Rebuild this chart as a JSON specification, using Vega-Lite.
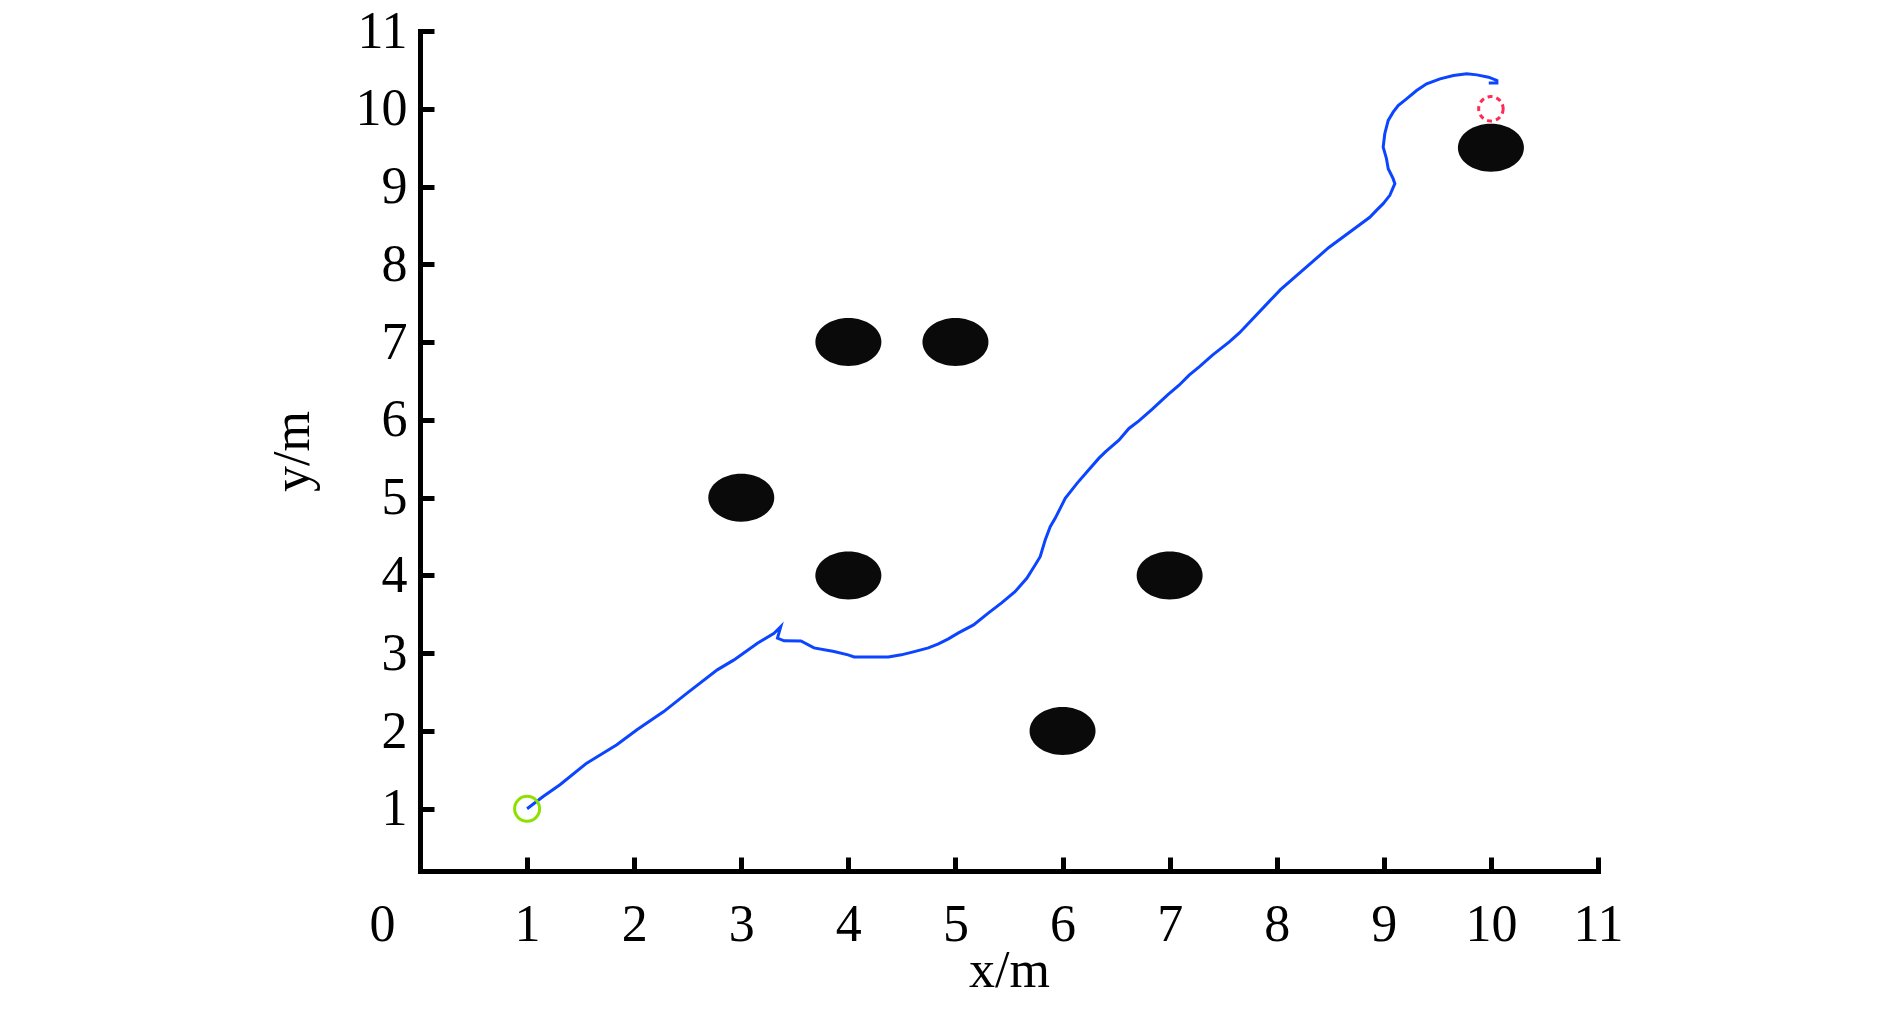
{
  "$schema": "https://vega.github.io/schema/vega-lite/v6.json",
  "width": 1178,
  "height": 840,
  "autosize": "none",
  "padding": {"left": 420, "top": 31, "right": 292, "bottom": 140},
  "background": "white",
  "config": {"view": {"stroke": null}, "font": "Liberation Serif"},
  "datasets": {
    "path": [
      {"i": 0, "x": 1, "y": 1}, {"i": 1, "x": 1.15, "y": 1.158}, {"i": 2, "x": 1.307, "y": 1.309},
      {"i": 3, "x": 1.557, "y": 1.587}, {"i": 4, "x": 1.838, "y": 1.823}, {"i": 5, "x": 2.026, "y": 2.015},
      {"i": 6, "x": 2.276, "y": 2.25}, {"i": 7, "x": 2.494, "y": 2.487}, {"i": 8, "x": 2.776, "y": 2.786},
      {"i": 9, "x": 2.932, "y": 2.914}, {"i": 10, "x": 3.151, "y": 3.129}, {"i": 11, "x": 3.306, "y": 3.257},
      {"i": 12, "x": 3.369, "y": 3.342}, {"i": 13, "x": 3.338, "y": 3.193}, {"i": 14, "x": 3.4, "y": 3.16},
      {"i": 15, "x": 3.557, "y": 3.158}, {"i": 16, "x": 3.679, "y": 3.068}, {"i": 17, "x": 3.866, "y": 3.021},
      {"i": 18, "x": 3.997, "y": 2.979}, {"i": 19, "x": 4.054, "y": 2.953}, {"i": 20, "x": 4.241, "y": 2.953},
      {"i": 21, "x": 4.373, "y": 2.953}, {"i": 22, "x": 4.494, "y": 2.979}, {"i": 23, "x": 4.616, "y": 3.021},
      {"i": 24, "x": 4.747, "y": 3.068}, {"i": 25, "x": 4.841, "y": 3.12}, {"i": 26, "x": 4.934, "y": 3.184},
      {"i": 27, "x": 5.028, "y": 3.261}, {"i": 28, "x": 5.169, "y": 3.364}, {"i": 29, "x": 5.309, "y": 3.518},
      {"i": 30, "x": 5.431, "y": 3.647}, {"i": 31, "x": 5.556, "y": 3.791}, {"i": 32, "x": 5.666, "y": 3.963},
      {"i": 33, "x": 5.744, "y": 4.134}, {"i": 34, "x": 5.791, "y": 4.241}, {"i": 35, "x": 5.838, "y": 4.455},
      {"i": 36, "x": 5.885, "y": 4.626}, {"i": 37, "x": 5.931, "y": 4.734}, {"i": 38, "x": 5.978, "y": 4.863},
      {"i": 39, "x": 6.025, "y": 4.991}, {"i": 40, "x": 6.135, "y": 5.184}, {"i": 41, "x": 6.229, "y": 5.333},
      {"i": 42, "x": 6.338, "y": 5.505}, {"i": 43, "x": 6.4, "y": 5.589}, {"i": 44, "x": 6.526, "y": 5.74},
      {"i": 45, "x": 6.62, "y": 5.89}, {"i": 46, "x": 6.713, "y": 5.988}, {"i": 47, "x": 6.838, "y": 6.138},
      {"i": 48, "x": 6.979, "y": 6.318}, {"i": 49, "x": 7.088, "y": 6.446}, {"i": 50, "x": 7.182, "y": 6.575},
      {"i": 51, "x": 7.276, "y": 6.681}, {"i": 52, "x": 7.4, "y": 6.832}, {"i": 53, "x": 7.557, "y": 7.002},
      {"i": 54, "x": 7.651, "y": 7.118}, {"i": 55, "x": 8.035, "y": 7.675}, {"i": 56, "x": 8.487, "y": 8.217},
      {"i": 57, "x": 8.869, "y": 8.605}, {"i": 58, "x": 8.931, "y": 8.694}, {"i": 59, "x": 8.994, "y": 8.78},
      {"i": 60, "x": 9.056, "y": 8.887}, {"i": 61, "x": 9.103, "y": 9.037}, {"i": 62, "x": 9.087, "y": 9.101},
      {"i": 63, "x": 9.041, "y": 9.229}, {"i": 64, "x": 9.025, "y": 9.358}, {"i": 65, "x": 8.994, "y": 9.507},
      {"i": 66, "x": 9.009, "y": 9.679}, {"i": 67, "x": 9.041, "y": 9.85}, {"i": 68, "x": 9.087, "y": 9.957},
      {"i": 69, "x": 9.134, "y": 10.042}, {"i": 70, "x": 9.212, "y": 10.128}, {"i": 71, "x": 9.306, "y": 10.235},
      {"i": 72, "x": 9.4, "y": 10.321}, {"i": 73, "x": 9.525, "y": 10.385}, {"i": 74, "x": 9.65, "y": 10.428},
      {"i": 75, "x": 9.775, "y": 10.449}, {"i": 76, "x": 9.869, "y": 10.436}, {"i": 77, "x": 9.978, "y": 10.406},
      {"i": 78, "x": 10.056, "y": 10.364}, {"i": 79, "x": 10.056, "y": 10.33}, {"i": 80, "x": 9.98, "y": 10.33}
    ],
    "obs": [
      {"x": 4, "y": 7}, {"x": 5, "y": 7}, {"x": 3, "y": 5}, {"x": 4, "y": 4},
      {"x": 7, "y": 4}, {"x": 6, "y": 2}, {"x": 10, "y": 9.5}
    ],
    "start": [{"x": 1, "y": 1}],
    "goal": [{"x": 10, "y": 10}]
  },
  "encoding": {
    "x": {
      "field": "x", "type": "quantitative",
      "scale": {"domain": [0, 11], "nice": false, "zero": false},
      "axis": {
        "values": [0, 1, 2, 3, 4, 5, 6, 7, 8, 9, 10, 11],
        "format": "d", "grid": false,
        "domainColor": "black", "domainWidth": 5, "domainCap": "square",
        "tickColor": "black", "tickWidth": 5, "tickSize": -14,
        "labelFont": "Liberation Serif", "labelFontSize": 52, "labelColor": "black",
        "labelPadding": 42, "labelFlush": false, "labelOverlap": false,
        "labelOffset": {"condition": {"test": "datum.value === 0", "value": -38}, "value": 0},
        "title": "x/m", "titleFont": "Liberation Serif", "titleFontSize": 52,
        "titleFontWeight": "normal", "titleColor": "black", "titlePadding": -5
      }
    },
    "y": {
      "field": "y", "type": "quantitative",
      "scale": {"domain": [0.2, 11], "nice": false, "zero": false},
      "axis": {
        "values": [1, 2, 3, 4, 5, 6, 7, 8, 9, 10, 11],
        "format": "d", "grid": false,
        "domainColor": "black", "domainWidth": 5, "domainCap": "square",
        "tickColor": "black", "tickWidth": 5, "tickSize": -14,
        "labelFont": "Liberation Serif", "labelFontSize": 52, "labelColor": "black",
        "labelPadding": 27, "labelFlush": false, "labelOverlap": false,
        "title": "y/m", "titleFont": "Liberation Serif", "titleFontSize": 52,
        "titleFontWeight": "normal", "titleColor": "black", "titlePadding": 36
      }
    }
  },
  "layer": [
    {
      "data": {"name": "obs"},
      "mark": {
        "type": "point", "filled": true, "color": "#0a0a0a", "opacity": 1,
        "shape": "M -1 0 A 1 0.727 0 1 1 1 0 A 1 0.727 0 1 1 -1 0 Z",
        "size": 4356
      }
    },
    {
      "data": {"name": "path"},
      "mark": {"type": "line", "color": "#0b45ff", "strokeWidth": 3},
      "encoding": {"order": {"field": "i", "type": "quantitative"}}
    },
    {
      "data": {"name": "start"},
      "mark": {"type": "point", "shape": "circle", "filled": false, "color": "#8ee000", "strokeWidth": 3, "size": 625, "opacity": 1}
    },
    {
      "data": {"name": "goal"},
      "mark": {"type": "point", "shape": "circle", "filled": false, "color": "#ff2a55", "strokeWidth": 3, "size": 600, "opacity": 1, "strokeDash": [5, 4]}
    }
  ]
}
